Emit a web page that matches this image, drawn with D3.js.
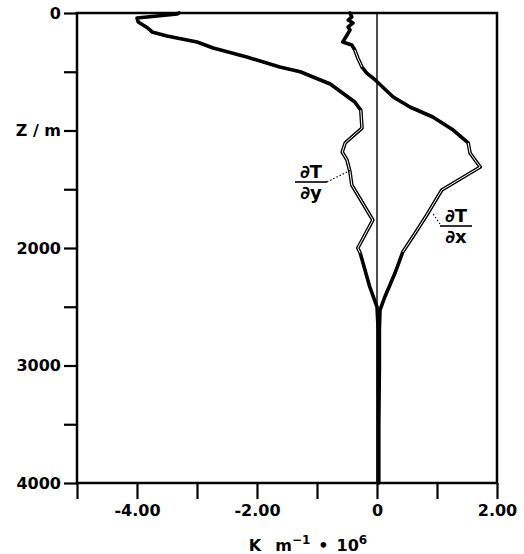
<!DOCTYPE html>
<html>
<head>
<meta charset="utf-8">
<script src="https://cdn.jsdelivr.net/npm/d3@7"></script>
<style>
  html, body { margin: 0; padding: 0; background: #fff; }
  svg { display: block; }
  text { font-family: "DejaVu Sans", sans-serif; font-weight: bold; fill: #000; }
</style>
</head>
<body>
<svg id="chart" width="524" height="554"></svg>
<script>
// Horizontal temperature gradients versus depth (K m^-1 x 10^6)
const depthY = [0, 8, 43, 77, 102, 128, 145, 162, 196, 247, 298, 374, 460, 500, 604, 757, 826, 979, 1106, 1183, 1251, 1353, 1464, 1762, 2000, 2043, 2332, 2502, 2700, 3000, 3500, 4000];
const dTdy   = [-3.3, -3.33, -4.0, -3.98, -3.9, -3.82, -3.78, -3.75, -3.5, -3.0, -2.73, -2.17, -1.62, -1.28, -0.78, -0.37, -0.27, -0.25, -0.53, -0.58, -0.5, -0.45, -0.42, -0.07, -0.32, -0.28, -0.12, 0.0, 0.02, 0.02, 0.02, 0.02];

const depthX = [0, 34, 60, 85, 119, 145, 187, 247, 272, 315, 383, 460, 511, 570, 715, 800, 885, 996, 1106, 1191, 1311, 1506, 1719, 1847, 2034, 2213, 2417, 2528, 2700, 3000, 3500, 4000];
const dTdx   = [-0.45, -0.42, -0.48, -0.4, -0.48, -0.45, -0.5, -0.57, -0.42, -0.37, -0.32, -0.25, -0.17, -0.03, 0.27, 0.55, 0.93, 1.27, 1.52, 1.55, 1.72, 1.08, 0.83, 0.67, 0.43, 0.3, 0.13, 0.05, 0.04, 0.04, 0.03, 0.03];

// depth intervals where the profiles are drawn as open (double) lines
const openY = [[800, 2050]];
const openX = [[300, 500], [1100, 2050]];

const xTicks = [-5, -4, -3, -2, -1, 0, 1, 2];
const xTickLabels = ["", "-4.00", "", "-2.00", "", "0", "", "2.00"];
const yTicks = [0, 500, 1000, 1500, 2000, 2500, 3000, 3500, 4000];
const yTickLabels = ["0", "", "Z / m", "", "2000", "", "3000", "", "4000"];

const svg = d3.select("#chart");
const x = d3.scaleLinear().domain([-5, 2]).range([77, 497]);
const y = d3.scaleLinear().domain([0, 4000]).range([13, 483]);

// axes
const yAxis = d3.axisLeft(y).tickValues(yTicks).tickSize(13).tickPadding(3)
  .tickFormat((d, i) => yTickLabels[i]);
const xAxis = d3.axisBottom(x).tickValues(xTicks).tickSize(16).tickPadding(6)
  .tickFormat((d, i) => xTickLabels[i]);

const gy = svg.append("g").attr("transform", `translate(${x(-5)},0)`).call(yAxis);
const gx = svg.append("g").attr("transform", `translate(0,${y(4000)})`).call(xAxis);
[gy, gx].forEach(g => {
  g.select(".domain").remove();
  g.selectAll(".tick line").attr("stroke", "#000").attr("stroke-width", 2.2);
  g.selectAll(".tick text").style("font-size", "16px").attr("fill", "#000");
});

// frame
svg.append("rect")
  .attr("x", x(-5)).attr("y", y(0))
  .attr("width", x(2) - x(-5)).attr("height", y(4000) - y(0))
  .attr("fill", "none").attr("stroke", "#000").attr("stroke-width", 2.5);

// zero reference line
svg.append("line")
  .attr("x1", x(0)).attr("x2", x(0)).attr("y1", y(0)).attr("y2", y(4000))
  .attr("stroke", "#000").attr("stroke-width", 1.4);

const line = d3.line().x(d => x(d[1])).y(d => y(d[0]));

function profile(depths, vals, open) {
  const pts = depths.map((z, i) => [z, vals[i]]);
  svg.append("path").attr("d", line(pts))
    .attr("fill", "none").attr("stroke", "#000").attr("stroke-width", 3.6)
    .attr("stroke-linejoin", "round").attr("stroke-linecap", "round");
  open.forEach(([a, b]) => {
    const seg = pts.filter(p => p[0] >= a && p[0] <= b);
    svg.append("path").attr("d", line(seg))
      .attr("fill", "none").attr("stroke", "#fff").attr("stroke-width", 1.0)
      .attr("stroke-linejoin", "round");
  });
}
profile(depthY, dTdy, openY);
profile(depthX, dTdx, openX);

// fraction labels with dotted leaders
function fraction(cx, barY, num, den, leader) {
  const g = svg.append("g");
  g.append("text").attr("x", cx).attr("y", barY - 4).attr("text-anchor", "middle")
    .style("font-size", "18px").text(num);
  g.append("line").attr("x1", cx - 16).attr("x2", cx + 16).attr("y1", barY).attr("y2", barY)
    .attr("stroke", "#000").attr("stroke-width", 1.6);
  g.append("text").attr("x", cx).attr("y", barY + 17).attr("text-anchor", "middle")
    .style("font-size", "18px").text(den);
  g.append("line")
    .attr("x1", leader[0]).attr("y1", leader[1]).attr("x2", leader[2]).attr("y2", leader[3])
    .attr("stroke", "#000").attr("stroke-width", 1.1).attr("stroke-dasharray", "1.5,2");
}
fraction(311, 182, "∂T", "∂y", [327, 182, x(-0.45), y(1340)]);
fraction(456, 226, "∂T", "∂x", [440, 224, x(0.92), y(1700)]);

// x-axis title
const title = svg.append("text").attr("x", 308).attr("y", 551).attr("text-anchor", "middle")
  .style("font-size", "16px");
title.append("tspan").text("K");
title.append("tspan").attr("dx", 14).text("m");
title.append("tspan").attr("dy", -7).style("font-size", "12px").text("−1");
title.append("tspan").attr("dy", 7).attr("dx", 8).text("•");
title.append("tspan").attr("dx", 8).text("10");
title.append("tspan").attr("dy", -7).style("font-size", "12px").text("6");
</script>
</body>
</html>
